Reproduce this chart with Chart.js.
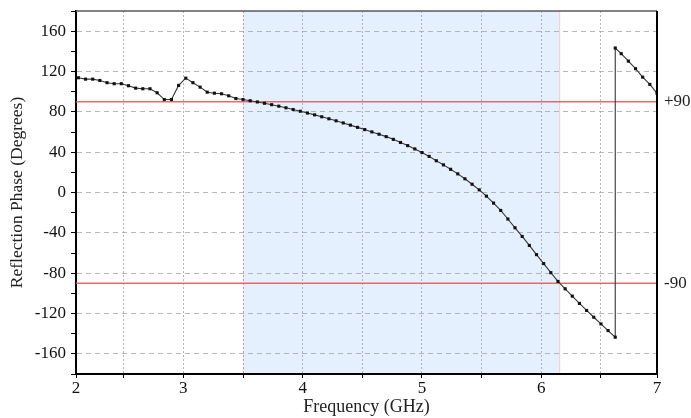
<!DOCTYPE html>
<html>
<head>
<meta charset="utf-8">
<script src="https://cdn.jsdelivr.net/npm/chart.js@4.4.0/dist/chart.umd.min.js"></script>
<style>
    html, body { margin: 0; padding: 0; background: #fff; }
    #wrap { position: relative; width: 691px; height: 418px; }
</style>
</head>
<body>
<div id="wrap"><canvas id="chart"></canvas></div>
<script>
// Frequency sweep (GHz) and reflection phase (degrees)
const FREQ = [
    2.12, 2.18, 2.24, 2.30, 2.36, 2.42, 2.48, 2.54, 2.60, 2.66,
    2.72, 2.78, 2.84, 2.90, 2.96, 3.02, 3.08, 3.14, 3.20, 3.26,
    3.32, 3.38, 3.44, 3.50, 3.56, 3.62, 3.68, 3.74, 3.80, 3.86,
    3.92, 3.98, 4.04, 4.10, 4.16, 4.22, 4.28, 4.34, 4.40, 4.46,
    4.52, 4.58, 4.64, 4.70, 4.76, 4.82, 4.88, 4.94, 5.00, 5.06,
    5.12, 5.18, 5.24, 5.30, 5.36, 5.42, 5.48, 5.54, 5.60, 5.66,
    5.72, 5.78, 5.84, 5.90, 5.96, 6.02, 6.08, 6.14, 6.20, 6.26,
    6.32, 6.38, 6.44, 6.50, 6.56, 6.62, 6.62, 6.67, 6.73, 6.79,
    6.85, 6.91, 6.97,
];
const PHASE = [
    113.8, 112.4, 112.4, 111.1, 108.9, 107.9, 107.9, 105.9, 103.5, 102.9,
    102.9, 98.9, 92.2, 92.2, 106.2, 113.4, 108.9, 104.5, 99.5, 98.5,
    97.9, 95.9, 93.2, 92.2, 91.0, 89.8, 88.5, 87.1, 85.6, 84.0,
    82.3, 80.6, 78.8, 77.0, 75.1, 73.1, 71.1, 69.0, 66.8, 64.6,
    62.4, 60.1, 57.8, 55.4, 52.7, 49.6, 46.5, 43.2, 39.6, 35.8,
    31.5, 27.4, 23.0, 18.5, 13.6, 8.2, 2.6, -3.6, -10.5, -17.8,
    -26.3, -35.0, -43.6, -52.5, -61.6, -70.5, -79.5, -88.2, -95.5, -102.8,
    -110.0, -117.0, -123.7, -130.3, -136.9, -143.5, 143.3, 137.7, 130.3, 122.8,
    114.4, 107.2, 98.5,
];

// reference phase lines and the in-band region between them
const REF_PHASES = [90, -90];
const REF_LABELS = ['+90', '-90'];
const BAND = [3.5, 6.15];

// x axis ticks (the axis ends are labelled 2 and 7)
const X_RANGE = [2.1, 6.97];
const X_TICKS = [2.1, 2.5, 3, 3.5, 4, 4.5, 5, 5.5, 6, 6.5, 6.97];
const X_TICK_LABELS = ['2', '', '3', '', '4', '', '5', '', '6', '', '7'];
const Y_RANGE = [-180, 180];

const FONT = '"Liberation Serif", "Times New Roman", serif';
const GRID_GRAY = 'rgba(160, 160, 160, 0.75)';
const REF_RED = 'rgba(232, 90, 90, 0.9)';

const bandPlugin = {
    id: 'band',
    beforeDraw(chart) {
        const { ctx, chartArea, scales } = chart;
        const x1 = scales.x.getPixelForValue(BAND[0]);
        const x2 = scales.x.getPixelForValue(BAND[1]);
        ctx.save();
        ctx.fillStyle = 'rgb(228, 240, 253)';
        ctx.fillRect(x1, chartArea.top, x2 - x1, chartArea.bottom - chartArea.top);
        ctx.strokeStyle = 'rgba(240, 180, 180, 0.7)';
        ctx.lineWidth = 1;
        ctx.beginPath();
        ctx.moveTo(x2 + 0.5, chartArea.top);
        ctx.lineTo(x2 + 0.5, chartArea.bottom);
        ctx.stroke();
        ctx.restore();
    },
};

const framePlugin = {
    id: 'frame',
    afterDraw(chart) {
        const { ctx, chartArea, scales } = chart;
        ctx.save();
        // top border (gray) and right border (black)
        ctx.strokeStyle = 'rgb(90, 90, 90)';
        ctx.lineWidth = 1.5;
        ctx.beginPath();
        ctx.moveTo(chartArea.left, chartArea.top);
        ctx.lineTo(chartArea.right, chartArea.top);
        ctx.stroke();
        ctx.strokeStyle = '#000';
        ctx.lineWidth = 2;
        ctx.beginPath();
        ctx.moveTo(chartArea.right, chartArea.top);
        ctx.lineTo(chartArea.right, chartArea.bottom);
        ctx.stroke();
        // +90 / -90 labels right of the plot
        ctx.fillStyle = '#222';
        ctx.font = '17px ' + FONT;
        ctx.textBaseline = 'middle';
        ctx.textAlign = 'left';
        REF_PHASES.forEach((p, i) => {
            ctx.fillText(REF_LABELS[i], chartArea.right + 7, scales.y.getPixelForValue(p));
        });
        ctx.restore();
    },
};

const refDatasets = REF_PHASES.map(p => ({
    data: [{ x: X_RANGE[0], y: p }, { x: X_RANGE[1], y: p }],
    showLine: true,
    borderColor: REF_RED,
    borderWidth: 1.6,
    pointRadius: 0,
    order: 1,
}));

new Chart(document.getElementById('chart'), {
    type: 'scatter',
    data: {
        datasets: [
            {
                data: FREQ.map((f, i) => ({ x: f, y: PHASE[i] })),
                showLine: true,
                borderColor: 'rgb(55, 55, 55)',
                borderWidth: 1.1,
                tension: 0,
                pointStyle: 'rect',
                pointRadius: 2.2,
                pointBorderWidth: 0,
                pointBackgroundColor: '#111',
                order: 0,
            },
            ...refDatasets,
        ],
    },
    options: {
        responsive: true,
        maintainAspectRatio: false,
        animation: false,
        layout: { padding: { left: 0, right: 34, top: 11, bottom: 0 } },
        scales: {
            x: {
                type: 'linear',
                min: X_RANGE[0],
                max: X_RANGE[1],
                afterBuildTicks: (scale) => {
                    scale.ticks = X_TICKS.map(v => ({ value: v }));
                },
                afterFit: (scale) => {
                    scale.height = 44;
                    scale.paddingLeft = 0;
                    scale.paddingRight = 0;
                },
                ticks: {
                    autoSkip: false,
                    maxRotation: 0,
                    color: '#111',
                    padding: 0,
                    font: { family: FONT, size: 17 },
                    callback: (v, i) => X_TICK_LABELS[i],
                },
                grid: {
                    color: (c) => {
                        if (c.index === 0 || c.index === X_TICKS.length - 1) return 'transparent';
                        return c.tick && c.tick.value === BAND[0] ? 'rgba(215, 120, 120, 0.8)' : GRID_GRAY;
                    },
                    tickColor: '#000',
                    tickLength: 4,
                    lineWidth: 1,
                },
                border: { color: '#000', width: 2, dash: [2, 2] },
                title: {
                    display: true,
                    text: 'Frequency (GHz)',
                    color: '#222',
                    font: { family: FONT, size: 18 },
                    padding: { top: 0, bottom: 0 },
                },
            },
            y: {
                min: Y_RANGE[0],
                max: Y_RANGE[1],
                afterFit: (scale) => {
                    scale.width = 76;
                    scale.paddingTop = 0;
                    scale.paddingBottom = 0;
                },
                ticks: {
                    stepSize: 20,
                    maxTicksLimit: 30,
                    autoSkip: false,
                    color: '#111',
                    padding: 5,
                    font: { family: FONT, size: 17 },
                    callback: (v) => (v % 40 === 0 ? v : ''),
                },
                grid: {
                    color: (c) => (c.tick && c.tick.value % 40 === 0 ? GRID_GRAY : 'transparent'),
                    tickColor: '#000',
                    tickLength: 5,
                    lineWidth: 1,
                },
                border: { color: '#000', width: 2, dash: [5, 4] },
                title: {
                    display: true,
                    text: 'Reflection Phase (Degrees)',
                    color: '#222',
                    font: { family: FONT, size: 17.5 },
                    padding: { top: 7, bottom: 0 },
                },
            },
        },
        plugins: {
            legend: { display: false },
            tooltip: { enabled: false },
        },
    },
    plugins: [bandPlugin, framePlugin],
});
</script>
</body>
</html>
